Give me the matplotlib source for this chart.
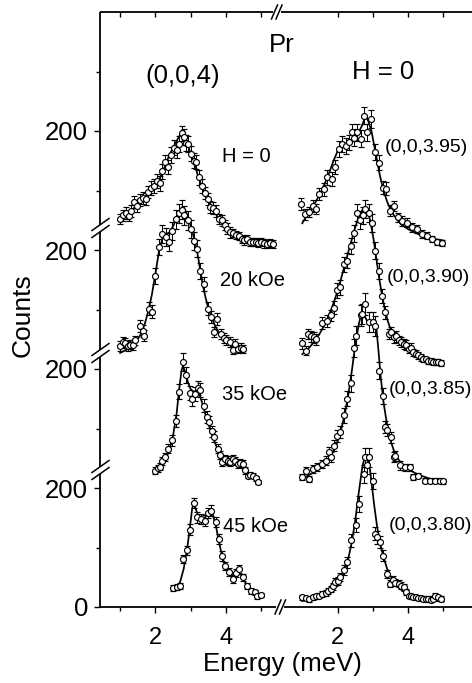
import matplotlib
matplotlib.use('Agg')
import matplotlib.pyplot as plt
import numpy as np

plt.rcParams['font.family'] = ['Liberation Sans', 'DejaVu Sans']

# ---- left block: (0,0,4) in field, counts vs energy (meV) ----
e_h0 = [1.00, 1.08, 1.16, 1.24, 1.32, 1.40, 1.48, 1.56,
        1.64, 1.72, 1.80, 1.88, 1.96, 2.04, 2.12, 2.20,
        2.28, 2.36, 2.44, 2.52, 2.60, 2.68, 2.74, 2.80,
        2.86, 2.92, 3.00, 3.08, 3.16, 3.24, 3.32, 3.40,
        3.48, 3.56, 3.64, 3.72, 3.80, 3.88, 3.96, 4.04,
        4.12, 4.20, 4.28, 4.36, 4.44, 4.52, 4.60, 4.68,
        4.76, 4.84, 4.92, 5.00, 5.08, 5.16, 5.24, 5.32]
n_h0 = [52, 58, 62, 57, 66, 80, 74, 84,
        88, 86, 98, 104, 108, 116, 112, 132,
        148, 140, 160, 172, 168, 178, 196, 190,
        180, 178, 162, 150, 148, 122, 108, 96,
        86, 72, 70, 66, 52, 50, 42, 36,
        30, 29, 25, 24, 19, 16, 18, 14,
        13, 14, 12, 13, 11, 10, 12, 10]
s_h0 = [9, 9, 10, 9, 10, 10, 10, 10,
        10, 10, 10, 12, 12, 12, 12, 12,
        12, 12, 13, 13, 13, 13, 13, 13,
        13, 13, 13, 13, 12, 12, 12, 10,
        10, 10, 10, 10, 9, 9, 9, 9,
        9, 7, 7, 7, 7, 7, 7, 7,
        7, 7, 7, 7, 7, 7, 7, 7]
fe_h0 = [1.00, 1.20, 1.40, 1.60, 1.80, 2.00, 2.10, 2.20, 2.30, 2.40, 2.50, 2.60,
         2.70, 2.76, 2.82, 2.90, 3.00, 3.10, 3.20, 3.30, 3.40, 3.50, 3.60, 3.70,
         3.80, 3.90, 4.00, 4.20, 4.40, 4.60, 4.80, 5.00, 5.20, 5.35]
fn_h0 = [50, 60, 71, 83, 95, 109, 118, 130, 146, 160, 172, 183,
         194, 200, 194, 180, 162, 144, 126, 109, 94, 81, 70, 61,
         53, 46, 40, 31, 24, 19, 15, 13, 11, 10]

e_20 = [1.00, 1.07, 1.14, 1.22, 1.29, 1.36, 1.43, 1.57,
        1.64, 1.69, 1.81, 1.90, 2.00, 2.10, 2.19, 2.29,
        2.38, 2.48, 2.57, 2.66, 2.74, 2.82, 2.91, 3.00,
        3.08, 3.17, 3.26, 3.37, 3.49, 3.57, 3.66, 3.74,
        3.86, 3.94, 4.00, 4.12, 4.20, 4.26, 4.34, 4.42,
        4.49]
n_20 = [39, 45, 44, 39, 41, 40, 48, 72,
        64, 56, 101, 96, 156, 205, 227, 222,
        213, 232, 252, 262, 268, 258, 250, 236,
        215, 202, 165, 143, 101, 87, 62, 84,
        59, 52, 49, 45, 32, 42, 34, 36,
        34]
s_20 = [8, 8, 8, 8, 8, 8, 8, 10,
        10, 9, 11, 11, 13, 14, 15, 15,
        15, 15, 16, 16, 16, 16, 16, 15,
        15, 14, 13, 12, 11, 10, 9, 10,
        9, 8, 8, 8, 7, 8, 7, 8,
        7]
fe_20 = [1.00, 1.20, 1.40, 1.50, 1.60, 1.70, 1.80, 1.90, 2.00, 2.10, 2.20, 2.30,
         2.40, 2.50, 2.60, 2.70, 2.78, 2.86, 2.94, 3.02, 3.10, 3.18, 3.26, 3.34,
         3.42, 3.50, 3.60, 3.70, 3.80, 3.90, 4.00, 4.10, 4.20, 4.30, 4.40, 4.50]
fn_20 = [27, 33, 42, 50, 60, 76, 98, 125, 160, 198, 220, 226,
         230, 240, 253, 265, 270, 265, 252, 236, 218, 198, 170, 142,
         120, 102, 85, 71, 61, 53, 47, 43, 39, 36, 34, 32]

e_35 = [2.00, 2.06, 2.13, 2.20, 2.27, 2.37, 2.48, 2.57,
        2.67, 2.79, 2.88, 2.97, 3.05, 3.12, 3.21, 3.27,
        3.37, 3.45, 3.51, 3.60, 3.66, 3.76, 3.83, 3.90,
        3.98, 4.05, 4.12, 4.19, 4.26, 4.33, 4.40, 4.48,
        4.55, 4.62, 4.69, 4.76, 4.84, 4.90]
n_35 = [29, 33, 36, 45, 52, 66, 80, 113,
        162, 212, 190, 160, 150, 158, 168, 165,
        138, 120, 111, 95, 86, 66, 55, 44,
        48, 46, 44, 49, 45, 40, 42, 40,
        30, 21, 22, 21, 16, 10]
s_35 = [6, 6, 6, 7, 7, 8, 9, 10,
        12, 15, 13, 12, 12, 12, 12, 12,
        11, 10, 10, 9, 9, 8, 7, 7,
        7, 7, 7, 7, 7, 7, 7, 7,
        6, 5, 5, 5, 4, 4]
fe_35 = [2.00, 2.10, 2.20, 2.30, 2.40, 2.50, 2.60, 2.68, 2.74, 2.78, 2.84,
         2.92, 3.00, 3.08, 3.16, 3.24, 3.32, 3.40, 3.50, 3.60, 3.70, 3.80,
         3.90, 4.00, 4.10, 4.20, 4.30, 4.40, 4.50, 4.60, 4.70, 4.80, 4.90]
fn_35 = [25, 31, 39, 50, 65, 88, 125, 170, 198, 205, 196,
         178, 166, 162, 163, 158, 144, 127, 108, 90, 74, 60,
         50, 46, 45, 46, 44, 38, 31, 24, 18, 14, 11]

e_45 = [2.50, 2.60, 2.71, 2.79, 2.89, 2.98, 3.08, 3.19,
        3.29, 3.40, 3.50, 3.57, 3.71, 3.81, 3.88, 3.97,
        4.08, 4.19, 4.29, 4.38, 4.48, 4.60, 4.71, 4.81,
        4.89, 4.98]
n_45 = [32, 33, 36, 81, 95, 130, 175, 151,
        148, 145, 158, 162, 143, 114, 86, 69,
        59, 47, 57, 64, 50, 36, 27, 25,
        18, 20]
s_45 = [5, 5, 5, 7, 8, 9, 9, 9,
        9, 9, 9, 9, 9, 8, 8, 7,
        7, 6, 7, 7, 6, 5, 5, 4,
        4, 4]
fe_45 = [2.50, 2.60, 2.70, 2.80, 2.90, 2.98, 3.04, 3.08, 3.14, 3.22,
         3.30, 3.40, 3.50, 3.56, 3.62, 3.70, 3.80, 3.90, 4.00, 4.10,
         4.20, 4.28, 4.34, 4.42, 4.50, 4.60, 4.70, 4.80, 4.90, 5.00]
fn_45 = [30, 33, 42, 64, 98, 135, 165, 174, 165, 152,
         147, 150, 158, 161, 156, 140, 110, 82, 65, 56,
         53, 57, 59, 55, 46, 36, 28, 23, 19, 17]

# ---- right block: H = 0, (0,0,L) ----
e_395 = [0.96, 1.07, 1.18, 1.29, 1.38, 1.47, 1.61, 1.71,
         1.85, 1.94, 2.04, 2.13, 2.23, 2.32, 2.41, 2.46,
         2.55, 2.65, 2.74, 2.84, 2.96, 3.07, 3.16, 3.29,
         3.38, 3.49, 3.59, 3.70, 3.82, 3.96, 4.10, 4.25,
         4.39, 4.53, 4.67, 4.81, 4.95]
n_395 = [77, 60, 64, 74, 69, 94, 102, 122,
         119, 139, 170, 178, 175, 181, 198, 189,
         198, 187, 226, 198, 220, 165, 147, 105,
         103, 66, 74, 55, 49, 46, 38, 35,
         27, 24, 18, 14, 12]
s_395 = [10, 9, 9, 10, 9, 10, 11, 12,
         12, 12, 13, 13, 13, 13, 14, 14,
         14, 14, 15, 14, 15, 13, 12, 11,
         11, 9, 9, 8, 8, 8, 7, 7,
         6, 6, 5, 5, 5]
fe_395 = [1.00, 1.10, 1.20, 1.30, 1.40, 1.50, 1.60, 1.70, 1.80, 1.90,
          2.00, 2.10, 2.20, 2.30, 2.40, 2.50, 2.60, 2.70, 2.76, 2.82,
          2.88, 2.96, 3.04, 3.12, 3.20, 3.30, 3.40, 3.50, 3.60, 3.70,
          3.80, 3.90, 4.00, 4.20, 4.40, 4.60, 4.80, 5.00]
fn_395 = [45, 55, 64, 73, 83, 94, 107, 120, 136, 152,
          166, 174, 178, 182, 186, 191, 198, 210, 220, 223,
          215, 200, 175, 150, 125, 100, 82, 68, 58, 50,
          43, 39, 35, 29, 24, 21, 18, 16]

e_390 = [1.00, 1.10, 1.15, 1.24, 1.32, 1.38, 1.57, 1.69,
         1.80, 1.90, 1.97, 2.07, 2.18, 2.27, 2.37, 2.46,
         2.55, 2.64, 2.72, 2.79, 2.88, 2.98, 3.07, 3.16,
         3.26, 3.35, 3.45, 3.52, 3.59, 3.66, 3.73, 3.80,
         3.87, 3.94, 4.01, 4.08, 4.15, 4.22, 4.29, 4.36,
         4.43, 4.50, 4.57, 4.64, 4.71, 4.78, 4.85, 4.92]
n_390 = [43, 31, 59, 55, 53, 50, 77, 80,
         90, 103, 132, 137, 176, 182, 207, 228,
         263, 250, 258, 269, 262, 245, 199, 165,
         123, 95, 59, 62, 53, 55, 48, 45,
         42, 40, 34, 36, 28, 26, 23, 20,
         17, 16, 14, 13, 11, 12, 11, 10]
s_390 = [9, 8, 9, 9, 9, 9, 10, 10,
         10, 11, 12, 12, 13, 13, 14, 14,
         15, 15, 15, 15, 15, 15, 14, 13,
         12, 11, 9, 9, 9, 9, 8, 8,
         8, 8, 7, 7, 6, 6, 6, 6,
         5, 5, 5, 5, 5, 5, 5, 5]
fe_390 = [1.00, 1.10, 1.20, 1.30, 1.40, 1.50, 1.60, 1.70, 1.80, 1.90,
          2.00, 2.10, 2.20, 2.30, 2.40, 2.50, 2.60, 2.70, 2.78, 2.86,
          2.94, 3.02, 3.10, 3.18, 3.26, 3.34, 3.42, 3.50, 3.60, 3.70,
          3.80, 3.90, 4.00, 4.20, 4.40, 4.60, 4.80, 4.95]
fn_390 = [25, 30, 36, 43, 51, 60, 71, 83, 97, 113,
          131, 152, 174, 196, 217, 238, 256, 267, 270, 265,
          245, 218, 185, 152, 124, 100, 81, 67, 56, 48,
          42, 37, 33, 27, 22, 17, 13, 11]

e_385 = [1.00, 1.10, 1.19, 1.29, 1.43, 1.57, 1.66, 1.76,
         1.80, 1.90, 1.99, 2.08, 2.18, 2.27, 2.37, 2.46,
         2.51, 2.65, 2.70, 2.77, 2.88, 3.00, 3.07, 3.16,
         3.29, 3.35, 3.40, 3.51, 3.59, 3.63, 3.77, 3.92,
         4.06, 4.15, 4.29, 4.48, 4.62, 4.76, 4.90, 4.99]
n_385 = [18, 29, 15, 32, 35, 40, 46, 60,
         52, 71, 88, 94, 122, 150, 176, 236,
         256, 290, 292, 309, 279, 279, 272, 197,
         155, 102, 98, 85, 52, 54, 38, 35,
         35, 18, 21, 12, 12, 12, 12, 11]
s_385 = [5, 6, 5, 6, 7, 7, 8, 9,
         8, 9, 10, 10, 12, 13, 14, 15,
         16, 17, 17, 18, 17, 17, 17, 14,
         13, 10, 10, 9, 8, 8, 7, 6,
         6, 5, 5, 4, 4, 4, 4, 4]
fe_385 = [1.00, 1.20, 1.40, 1.60, 1.80, 1.90, 2.00, 2.10, 2.20, 2.30,
          2.40, 2.50, 2.60, 2.66, 2.72, 2.80, 2.88, 2.96, 3.04, 3.10,
          3.16, 3.22, 3.30, 3.40, 3.50, 3.60, 3.70, 3.80, 3.90, 4.00,
          4.20, 4.40, 4.60, 4.80, 5.00]
fn_385 = [15, 22, 29, 39, 54, 64, 78, 98, 123, 155,
          195, 240, 275, 290, 295, 285, 276, 280, 282, 268,
          230, 188, 145, 107, 80, 62, 50, 42, 36, 32,
          25, 20, 16, 13, 11]

e_380 = [1.00, 1.10, 1.19, 1.29, 1.38, 1.47, 1.57, 1.66,
         1.73, 1.80, 1.87, 1.94, 2.01, 2.08, 2.18, 2.27,
         2.39, 2.51, 2.60, 2.74, 2.77, 2.84, 2.88, 2.99,
         3.07, 3.13, 3.21, 3.30, 3.40, 3.49, 3.56, 3.63,
         3.73, 3.80, 3.87, 3.94, 4.01, 4.08, 4.15, 4.22,
         4.29, 4.36, 4.43, 4.50, 4.57, 4.64, 4.71, 4.76,
         4.85, 4.94]
n_380 = [16, 15, 13, 16, 18, 19, 22, 23,
         27, 30, 35, 42, 44, 50, 62, 75,
         112, 138, 173, 224, 252, 238, 252, 212,
         123, 117, 109, 86, 55, 39, 45, 41,
         39, 36, 33, 26, 19, 18, 17, 16,
         15, 15, 14, 13, 14, 12, 14, 19,
         17, 14]
s_380 = [4, 4, 4, 4, 4, 4, 5, 5,
         5, 5, 6, 6, 7, 7, 8, 9,
         11, 12, 13, 15, 16, 15, 16, 14,
         11, 11, 10, 9, 7, 6, 7, 6,
         6, 6, 6, 5, 4, 4, 4, 4,
         4, 4, 4, 4, 4, 4, 4, 4,
         4, 4]
fe_380 = [1.00, 1.20, 1.40, 1.60, 1.80, 1.90, 2.00, 2.10, 2.20, 2.30,
          2.40, 2.50, 2.60, 2.70, 2.78, 2.84, 2.90, 2.96, 3.04, 3.12,
          3.20, 3.30, 3.40, 3.50, 3.60, 3.70, 3.80, 3.90, 4.00, 4.20,
          4.40, 4.60, 4.80, 5.00]
fn_380 = [10, 12, 15, 20, 27, 32, 38, 47, 60, 80,
          108, 145, 192, 235, 255, 256, 240, 210, 170, 135,
          108, 84, 65, 52, 42, 35, 29, 25, 21, 16,
          13, 11, 10, 9]

# stacking: each spectrum sits 200 counts above the one below
offsets = [600, 400, 200, 0]
field_labels = ['H = 0', '20 kOe', '35 kOe', '45 kOe']
q_labels = ['(0,0,3.95)', '(0,0,3.90)', '(0,0,3.85)', '(0,0,3.80)']

# right block is drawn on the same axis, shifted past the break
shift = 5.16

W, H = 472, 683
PXX = 35.3     # px per meV
PXY = 0.595    # px per count
X0 = 0.43      # energy at the left axis line
Y0PX = 607     # pixel row of counts = 0


def px2data(px, py):
    return X0 + (px - 100) / PXX, (Y0PX - py) / PXY


def fpos(px, py):
    return px / W, 1 - py / H


fig = plt.figure(figsize=(W / 100, H / 100), dpi=100)
ax = fig.add_axes([100 / W, (H - Y0PX) / H, 380 / W, 595 / H])
ax.set_xlim(X0, X0 + 380 / PXX)
ax.set_ylim(0, 595 / PXY)
for sp in ax.spines.values():
    sp.set_visible(False)


def spectrum(e, n, s, fe, fn, dx, dy):
    ax.plot(np.array(fe) + dx, np.array(fn) + dy, color='black', lw=1.25,
            zorder=2, clip_on=False)
    ax.errorbar(np.array(e) + dx, np.array(n) + dy, yerr=s, fmt='o', ms=4.3,
                mfc='white', mec='black', mew=0.85, ecolor='black',
                elinewidth=0.75, capsize=2.0, capthick=0.75, zorder=3,
                clip_on=False)


left_sets = [(e_h0, n_h0, s_h0, fe_h0, fn_h0), (e_20, n_20, s_20, fe_20, fn_20),
             (e_35, n_35, s_35, fe_35, fn_35), (e_45, n_45, s_45, fe_45, fn_45)]
right_sets = [(e_395, n_395, s_395, fe_395, fn_395), (e_390, n_390, s_390, fe_390, fn_390),
              (e_385, n_385, s_385, fe_385, fn_385), (e_380, n_380, s_380, fe_380, fn_380)]

for (e, n, s, fe, fn), off in zip(left_sets, offsets):
    spectrum(e, n, s, fe, fn, 0, off)
for (e, n, s, fe, fn), off in zip(right_sets, offsets):
    spectrum(e, n, s, fe, fn, shift, off)

# ticks
ax.set_xticks([2, 4, 2 + shift, 4 + shift], ['2', '4', '2', '4'])
ax.set_xticks([1, 3, 5, 3 + shift, 5 + shift], minor=True)
ax.set_yticks([0, 200, 400, 600, 800], ['0', '200', '200', '200', '200'])
ax.set_yticks([100, 300, 500, 700, 900], minor=True)
ax.tick_params(axis='x', which='major', direction='out', length=4.5, width=1.0,
               labelsize=17, pad=10, top=False)
ax.tick_params(axis='x', which='minor', direction='out', length=3, width=1.0, top=False)
ax.tick_params(axis='y', which='major', direction='out', length=4.5, width=1.0,
               labelsize=18.5, pad=4)
ax.tick_params(axis='y', which='minor', direction='out', length=3, width=1.0)

top = ax.secondary_xaxis('top')
top.set_xticks([1, 2, 3, 4, 5, 2 + shift, 3 + shift, 4 + shift, 5 + shift], [''] * 9)
top.tick_params(direction='in', length=3.5, width=1.0)
top.spines['top'].set_visible(False)

# frame lines with breaks
lk = dict(color='black', lw=1.3, clip_on=False, solid_capstyle='butt')
xl, xr = ax.get_xlim()
ytop = ax.get_ylim()[1]
xb_lo, _ = px2data(276, 0)
xb_hi, _ = px2data(284, 0)
ax.plot([xl, xb_lo], [0, 0], **lk)
ax.plot([xb_hi, xr], [0, 0], **lk)
xt_lo, _ = px2data(273, 0)
xt_hi, _ = px2data(281, 0)
ax.plot([xl, xt_lo], [ytop, ytop], **lk)
ax.plot([xt_hi, xr], [ytop, ytop], **lk)

# slashes across the x breaks
for cx, cy in [(278, 607), (282.5, 607), (274.5, 12), (279, 12)]:
    x1, y1 = px2data(cx - 3, cy + 7)
    x2, y2 = px2data(cx + 3, cy - 7)
    ax.plot([x1, x2], [y1, y2], color='black', lw=1.1, clip_on=False)

# left axis line broken between the stacked spectra
brk_px = [470, 353, 228]
gap = 3.5 / PXY
segs = [0] + [(Y0PX - b) / PXY for b in brk_px] + [ytop]
for i in range(len(segs) - 1):
    lo = segs[i] + (gap if i > 0 else 0)
    hi = segs[i + 1] - (gap if i < len(segs) - 2 else 0)
    ax.plot([xl, xl], [lo, hi], **lk)
for b in brk_px:
    for d in (-3.5, 3.5):
        x1, y1 = px2data(92, b + d + 6)
        x2, y2 = px2data(109, b + d - 6)
        ax.plot([x1, x2], [y1, y2], color='black', lw=1.1, clip_on=False)

# labels
fig.text(*fpos(23, 315), 'Counts', rotation=90, ha='center', va='center', fontsize=19)
fig.text(*fpos(282, 664), 'Energy (meV)', ha='center', va='center', fontsize=18.5)
fig.text(*fpos(282, 45), 'Pr', ha='center', va='center', fontsize=18.5)
fig.text(*fpos(183, 76), '(0,0,4)', ha='center', va='center', fontsize=18.5)
fig.text(*fpos(383, 72), 'H = 0', ha='center', va='center', fontsize=18.5)

field_pos = [(222, 156), (220, 281), (222, 394), (223, 526)]
for lab, (px, py) in zip(field_labels, field_pos):
    fig.text(*fpos(px, py), lab, ha='left', va='center', fontsize=14.5)
q_pos = [(385, 147), (387, 277), (389, 390), (389, 526)]
for lab, (px, py) in zip(q_labels, q_pos):
    fig.text(*fpos(px, py), lab, ha='left', va='center', fontsize=14)

fig.savefig('out.png', dpi=100)
